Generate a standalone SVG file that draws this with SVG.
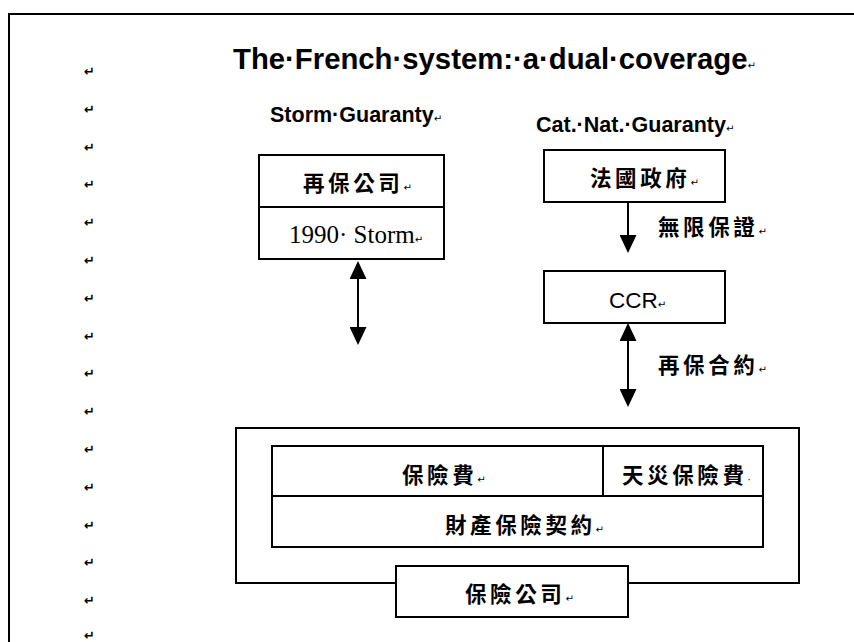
<svg xmlns="http://www.w3.org/2000/svg" width="854" height="642" viewBox="0 0 854 642">
<style>
.box{fill:#fff;stroke:#000;stroke-width:2}
.ln{fill:none;stroke:#000;stroke-width:2}
.con{stroke:#000;stroke-width:2;fill:none}
.en{font-family:"Liberation Sans",Arial,sans-serif;font-weight:bold;fill:#000}
.cjk{font-family:"Noto Sans CJK TC","Noto Sans CJK SC",sans-serif;font-size:21.5px;font-weight:bold;letter-spacing:3.6px;fill:#000}
.mk{font-family:"DejaVu Sans",sans-serif;font-size:10px;font-weight:normal;letter-spacing:0}
.pm{font-family:"DejaVu Sans",sans-serif;font-size:13px;font-weight:bold;fill:#000}
</style>
<defs>
<marker id="ah" viewBox="0 0 18 17" refX="0" refY="8.5" markerWidth="18" markerHeight="17" markerUnits="userSpaceOnUse" orient="auto-start-reverse">
<path d="M0,0 L18,8.5 L0,17 Z" fill="#000"/>
</marker>
</defs>
<rect width="854" height="642" fill="#fff"/>
<g id="frame">
<path class="ln" d="M8,14 H854 M9,14 V642"/>
</g>
<g id="marks">
<text class="pm" x="84" y="76">↵</text>
<text class="pm" x="84" y="114">↵</text>
<text class="pm" x="84" y="152">↵</text>
<text class="pm" x="84" y="189">↵</text>
<text class="pm" x="84" y="227">↵</text>
<text class="pm" x="84" y="265">↵</text>
<text class="pm" x="84" y="303">↵</text>
<text class="pm" x="84" y="341">↵</text>
<text class="pm" x="84" y="378">↵</text>
<text class="pm" x="84" y="416">↵</text>
<text class="pm" x="84" y="454">↵</text>
<text class="pm" x="84" y="492">↵</text>
<text class="pm" x="84" y="530">↵</text>
<text class="pm" x="84" y="567">↵</text>
<text class="pm" x="84" y="605">↵</text>
<text class="pm" x="84" y="640">↵</text>
</g>
<g id="title">
<text class="en" x="233" y="69" font-size="29.3">The·French·system:·a·dual·coverage<tspan class="mk">↵</tspan></text>
</g>
<g id="storm-label">
<text class="en" x="270" y="122" font-size="21.5">Storm·Guaranty<tspan class="mk">↵</tspan></text>
</g>
<g id="catnat-label">
<text class="en" x="536" y="132" font-size="21.5">Cat.·Nat.·Guaranty<tspan class="mk">↵</tspan></text>
</g>
<g id="reinsurer">
<rect class="box" x="259" y="155" width="185" height="52"/>
<text class="cjk" x="303" y="191">再保公司<tspan class="mk">↵</tspan></text>
</g>
<g id="storm1990">
<rect class="box" x="259" y="207" width="185" height="52"/>
<text x="289" y="243" font-family="Liberation Serif,'Times New Roman',serif" font-size="25">1990· Storm<tspan class="mk">↵</tspan></text>
</g>
<g id="gov">
<rect class="box" x="544" y="150" width="181" height="52"/>
<text class="cjk" x="590" y="186">法國政府<tspan class="mk">↵</tspan></text>
</g>
<g id="ccr">
<rect class="box" x="544" y="271" width="181" height="52"/>
<text x="609" y="308" font-family="Liberation Sans,Arial,sans-serif" font-size="22.5">CCR<tspan class="mk">↵</tspan></text>
</g>
<g id="insurer-frame">
<rect class="box" x="236" y="428" width="563" height="155"/>
</g>
<g id="premium">
<rect class="box" x="272" y="446" width="331" height="50"/>
<text class="cjk" x="402" y="483">保險費<tspan class="mk">↵</tspan></text>
</g>
<g id="cat-premium">
<rect class="box" x="603" y="446" width="160" height="50"/>
<text class="cjk" x="622" y="483">天災保險費<tspan class="mk">·</tspan></text>
</g>
<g id="contract">
<rect class="box" x="272" y="496" width="491" height="51"/>
<text class="cjk" x="445" y="533">財產保險契約<tspan class="mk">↵</tspan></text>
</g>
<g id="insurer">
<rect class="box" x="396" y="566" width="232" height="51"/>
<text class="cjk" x="465" y="602">保險公司<tspan class="mk">↵</tspan></text>
</g>
<g id="connectors">
<line class="con" x1="358" y1="279" x2="358" y2="327" marker-start="url(#ah)" marker-end="url(#ah)"/>
<line class="con" x1="628" y1="202" x2="628" y2="235" marker-end="url(#ah)"/>
<line class="con" x1="628" y1="341" x2="628" y2="389" marker-start="url(#ah)" marker-end="url(#ah)"/>
</g>
<g id="connector-labels">
<text class="cjk" x="658" y="235">無限保證<tspan class="mk">↵</tspan></text>
<text class="cjk" x="658" y="373">再保合約<tspan class="mk">↵</tspan></text>
</g>
</svg>
